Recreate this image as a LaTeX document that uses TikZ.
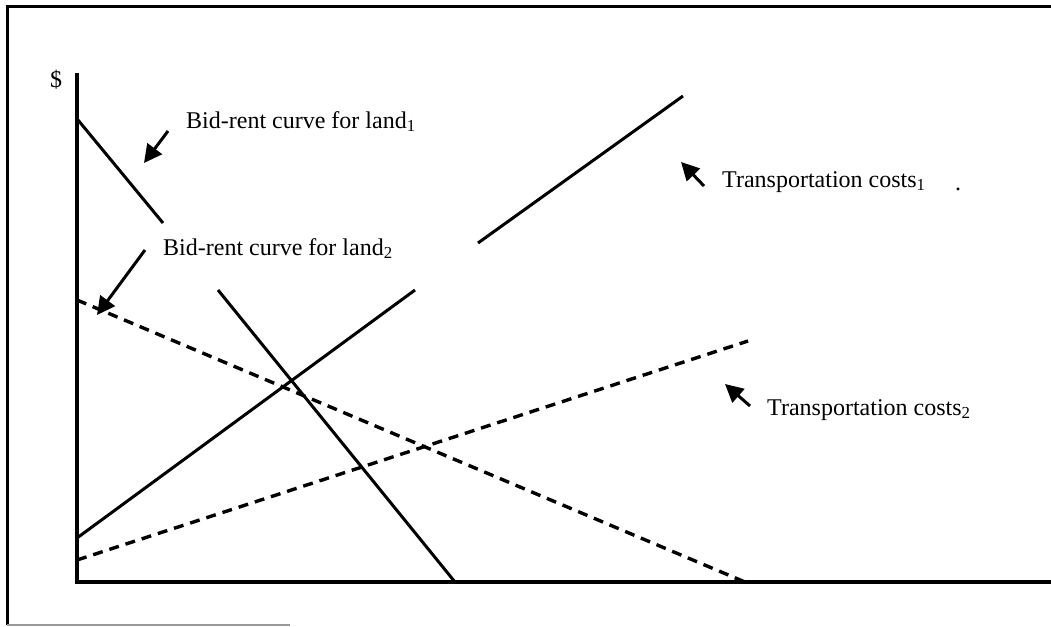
\documentclass[tikz,border=0pt]{standalone}
\usepackage{fontspec}
\setmainfont{Liberation Serif}
\usetikzlibrary{arrows.meta}
\tikzset{
  curve/.style={line width=3pt},
  axis/.style={line width=3.6pt},
  dashcurve/.style={line width=3.4pt, dash pattern=on 10pt off 7pt},
  pointer/.style={line width=3pt, -{Triangle[length=18pt,width=18pt]}},
  lbl/.style={anchor=base west, inner sep=0pt, font=\fontsize{24}{29}\selectfont},
  frame/.style={line width=3pt}
}
\begin{document}
\begin{tikzpicture}[x=1pt,y=-1pt]
\useasboundingbox (0,0) rectangle (1051,626);
\fill[white] (0,0) rectangle (1051,626);
% frame (open on the right)
\coordinate (fTR) at (1051,7);
\coordinate (fTL) at (7,7);
\coordinate (fBL) at (7,625);
\coordinate (fBM) at (290,625);
\draw[frame] (fTR) -- (fTL) -- (fBL);
\draw[line width=1.4pt, black!40] (fBL) -- (fBM);
% axes
\coordinate (yTop) at (77,73);
\coordinate (origin) at (77,582);
\coordinate (xEnd) at (1051,582);
\draw[axis] (yTop) -- (origin) -- (xEnd);
\node[lbl] (dollar) at (50,87) {\$};
% bid-rent curve land 1 (solid, with gap)
\coordinate (b1a) at (78,120);
\coordinate (b1b) at (163,223);
\coordinate (b1c) at (218,290);
\coordinate (b1d) at (455,582);
\draw[curve] (b1a) -- (b1b);
\draw[curve] (b1c) -- (b1d);
% transportation costs 1 (solid, with gap)
\coordinate (t1a) at (77,538);
\coordinate (t1b) at (415,290);
\coordinate (t1c) at (478,243);
\coordinate (t1d) at (683,96);
\draw[curve] (t1a) -- (t1b);
\draw[curve] (t1c) -- (t1d);
% bid-rent curve land 2 (dashed)
\coordinate (b2a) at (77,300);
\coordinate (b2b) at (745,582);
\draw[dashcurve] (b2a) -- (b2b);
% transportation costs 2 (dashed)
\coordinate (t2a) at (77,560);
\coordinate (t2b) at (748,341);
\draw[dashcurve] (t2a) -- (t2b);
% labels
\node[lbl] (L1) at (186,128) {Bid-rent curve for land\textsubscript{1}};
\node[lbl] (L2) at (163,255) {Bid-rent curve for land\textsubscript{2}};
\node[lbl] (T1) at (722,187) {Transportation costs\textsubscript{1}};
\node[lbl] (dot) at (955,190) {.};
\node[lbl] (T2) at (767,415) {Transportation costs\textsubscript{2}};
% pointer arrows
\coordinate (a1s) at (168,131); \coordinate (a1e) at (144,163);
\coordinate (a2s) at (145,250); \coordinate (a2e) at (97,315);
\coordinate (a3s) at (704,186); \coordinate (a3e) at (681,162);
\coordinate (a4s) at (750,406); \coordinate (a4e) at (725,384);
\draw[pointer] (a1s) -- (a1e);
\draw[pointer] (a2s) -- (a2e);
\draw[pointer] (a3s) -- (a3e);
\draw[pointer] (a4s) -- (a4e);
\end{tikzpicture}
\end{document}
